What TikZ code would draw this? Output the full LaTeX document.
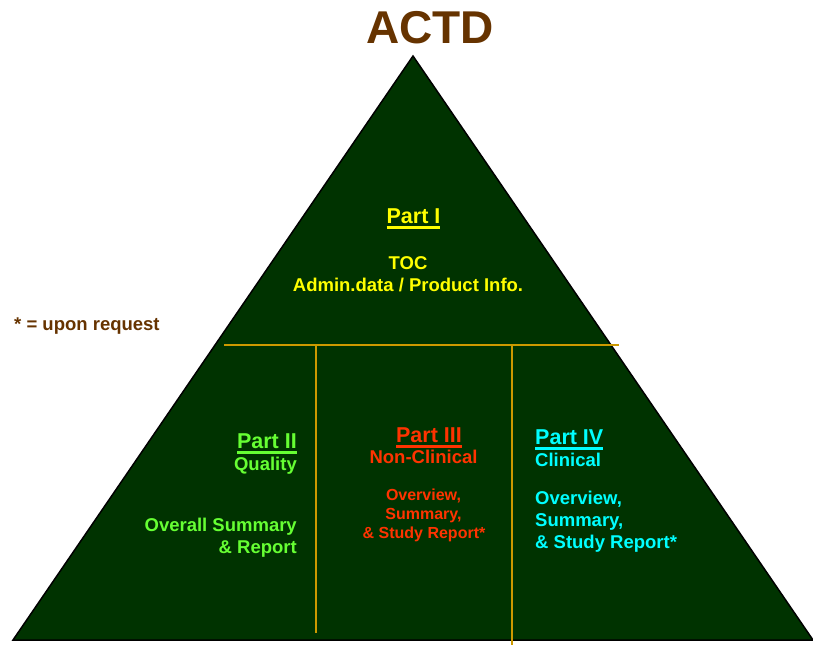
\documentclass[tikz,border=0pt]{standalone}
\usepackage{fontspec}
\setmainfont{Liberation Sans}
\definecolor{titlebrown}{HTML}{663300}
\definecolor{pyrfill}{HTML}{003300}
\definecolor{gold}{HTML}{CC9900}
\definecolor{partone}{HTML}{FFFF00}
\definecolor{parttwo}{HTML}{66FF33}
\definecolor{partthree}{HTML}{FF3300}
\definecolor{partfour}{HTML}{00FFFF}
\newcommand\myul[1]{\setbox0\hbox{#1}\rlap{\vrule width\wd0 height -3pt depth 5.5pt}\box0}
\tikzset{
  txt/.style={inner sep=0pt, font=\fontsize{18.5}{22}\selectfont\bfseries},
  headtxt/.style={inner sep=0pt, font=\fontsize{21.5}{24}\selectfont\bfseries},
  smalltxt/.style={inner sep=0pt, font=\fontsize{16}{19}\selectfont\bfseries},
  divider/.style={draw=gold, line width=2pt}
}
\begin{document}
\begin{tikzpicture}[x=1pt,y=-1pt]
\useasboundingbox (0,0) rectangle (813,645);
% pyramid
\coordinate (apex) at (413,56);
\coordinate (bl) at (13,640);
\coordinate (br) at (813,640);
\draw[fill=pyrfill, draw=black, line width=1.5pt, line join=miter] (apex) -- (bl) -- (br) -- cycle;
% dividers
\coordinate (hl) at (224,345);
\coordinate (hr) at (619,345);
\coordinate (v1t) at (316,345);
\coordinate (v1b) at (316,633);
\coordinate (v2t) at (512,345);
\coordinate (v2b) at (512,645);
\draw[divider] (hl) -- (hr);
\draw[divider] (v1t) -- (v1b);
\draw[divider] (v2t) -- (v2b);
% title
\node[inner sep=0pt, anchor=base, text=titlebrown, font=\fontsize{46}{50}\selectfont\bfseries] (title) at (430,43) {ACTD};
\node[txt, anchor=base west, text=titlebrown] (note) at (14,330) {* = upon request};
% Part I
\node[headtxt, anchor=base, text=partone] (p1) at (413.5,223) {\myul{Part I}};
\node[txt, anchor=base, text=partone] (p1a) at (408,269) {TOC};
\node[txt, anchor=base, text=partone] (p1b) at (408,291) {Admin.data / Product Info.};
% Part II
\node[headtxt, anchor=base east, text=parttwo] (p2) at (297,448) {\myul{Part II}};
\node[txt, anchor=base east, text=parttwo] (p2a) at (297,470) {Quality};
\node[txt, anchor=base east, text=parttwo] (p2b) at (297,531) {Overall Summary};
\node[txt, anchor=base east, text=parttwo] (p2c) at (297,553) {\& Report};
% Part III
\node[headtxt, anchor=base, text=partthree] (p3) at (429,442) {\myul{Part III}};
\node[txt, anchor=base, text=partthree] (p3a) at (423.5,463) {Non-Clinical};
\node[smalltxt, anchor=base, text=partthree] (p3b) at (423.5,500) {Overview,};
\node[smalltxt, anchor=base, text=partthree] (p3c) at (423.5,519) {Summary,};
\node[smalltxt, anchor=base, text=partthree] (p3d) at (424,538) {\& Study Report*};
% Part IV
\node[headtxt, anchor=base west, text=partfour] (p4) at (535,444) {\myul{Part IV}};
\node[txt, anchor=base west, text=partfour] (p4a) at (535,466) {Clinical};
\node[txt, anchor=base west, text=partfour] (p4b) at (535,504) {Overview,};
\node[txt, anchor=base west, text=partfour] (p4c) at (535,526) {Summary,};
\node[txt, anchor=base west, text=partfour] (p4d) at (535,548) {\& Study Report*};
\end{tikzpicture}
\end{document}
